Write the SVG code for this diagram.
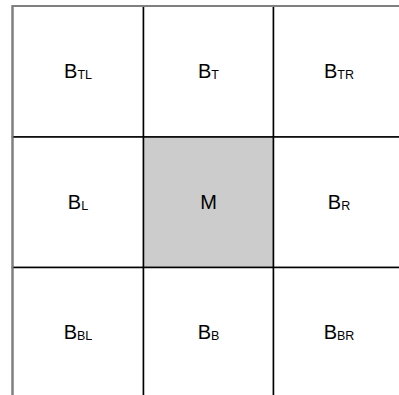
<svg xmlns="http://www.w3.org/2000/svg" width="399" height="395" viewBox="0 0 399 395">
<style>
.cell{fill:#ffffff;stroke:#000000;stroke-width:1.5}
.mid{fill:#cccccc;stroke:#000000;stroke-width:1.5}
.frame{fill:none;stroke:#808080;stroke-width:2}
text{font-family:"Liberation Sans",Arial,sans-serif;font-size:20px;fill:#000000;text-anchor:middle}
.sub{font-size:12.5px}
</style>
<g id="connectors"></g>
<g id="B_TL"><rect class="cell" x="12.5" y="6" width="131" height="131"/><text x="78" y="78">B<tspan class="sub" dy="1">TL</tspan></text></g>
<g id="B_T"><rect class="cell" x="143.5" y="6" width="130" height="131"/><text x="208.5" y="78">B<tspan class="sub" dy="1">T</tspan></text></g>
<g id="B_TR"><rect class="cell" x="273.5" y="6" width="131" height="131"/><text x="339" y="78">B<tspan class="sub" dy="1">TR</tspan></text></g>
<g id="B_L"><rect class="cell" x="12.5" y="137" width="131" height="130.5"/><text x="78" y="208.5">B<tspan class="sub" dy="1">L</tspan></text></g>
<g id="M"><rect class="mid" x="143.5" y="137" width="130" height="130.5"/><text x="208.5" y="208.5">M</text></g>
<g id="B_R"><rect class="cell" x="273.5" y="137" width="131" height="130.5"/><text x="339" y="208.5">B<tspan class="sub" dy="1">R</tspan></text></g>
<g id="B_BL"><rect class="cell" x="12.5" y="267.5" width="131" height="131"/><text x="78" y="339">B<tspan class="sub" dy="1">BL</tspan></text></g>
<g id="B_B"><rect class="cell" x="143.5" y="267.5" width="130" height="131"/><text x="208.5" y="339">B<tspan class="sub" dy="1">B</tspan></text></g>
<g id="B_BR"><rect class="cell" x="273.5" y="267.5" width="131" height="131"/><text x="339" y="339">B<tspan class="sub" dy="1">BR</tspan></text></g>
<rect class="frame" x="12.5" y="6" width="392" height="392.5"/>
</svg>
